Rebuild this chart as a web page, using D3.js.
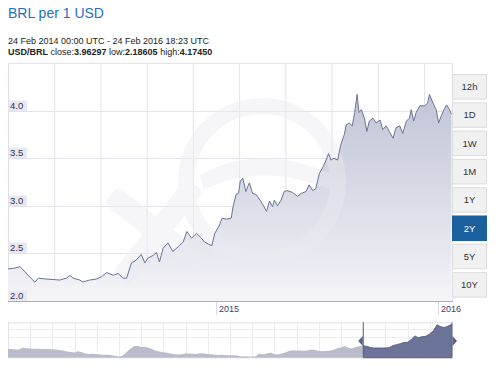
<!DOCTYPE html>
<html><head><meta charset="utf-8">
<script src="https://cdn.jsdelivr.net/npm/d3@7"></script>
<style>
body{margin:0;background:#fff;font-family:"Liberation Sans",Arial,sans-serif;}
svg{display:block;}
</style></head>
<body>
<svg id="c" width="500" height="375"></svg>
<script>
// ---- data ----
const title = "BRL per 1 USD";
const subtitle = "24 Feb 2014 00:00 UTC - 24 Feb 2016 18:23 UTC";
const pair = "USD/BRL", closeV = "3.96297", lowV = "2.18605", highV = "4.17450";
const rangeStart = "2014-02-24", rangeEnd = "2016-02-24";
const yTicks = [2.0, 2.5, 3.0, 3.5, 4.0];
const xTickDates = ["2015-02-01", "2016-02-01"];
const xTickLabels = ["2015", "2016"];
const buttons = ["12h","1D","1W","1M","1Y","2Y","5Y","10Y"];
const activeButton = "2Y";

const dates = ["2014-02-24","2014-03-05","2014-03-16","2014-03-21","2014-03-29","2014-04-06","2014-04-09","2014-04-15","2014-04-28","2014-05-09",
"2014-05-20","2014-05-31","2014-06-06","2014-06-11","2014-06-22","2014-06-27","2014-07-08","2014-07-19","2014-07-28","2014-08-05",
"2014-08-16","2014-08-24","2014-09-01","2014-09-07","2014-09-15","2014-09-23","2014-10-01","2014-10-07","2014-10-12","2014-10-21",
"2014-10-26","2014-10-31","2014-11-06","2014-11-14","2014-11-22","2014-12-01","2014-12-09","2014-12-15","2014-12-23","2014-12-31",
"2015-01-08","2015-01-13","2015-01-19","2015-01-25","2015-01-30","2015-02-07","2015-02-11","2015-02-18","2015-02-26","2015-03-01",
"2015-03-06","2015-03-10","2015-03-13","2015-03-17","2015-03-22","2015-03-27","2015-03-28","2015-04-02","2015-04-08","2015-04-16",
"2015-04-21","2015-04-25","2015-04-30","2015-05-05","2015-05-08","2015-05-13","2015-05-19","2015-05-24","2015-05-29","2015-06-07",
"2015-06-15","2015-06-21","2015-06-29","2015-07-04","2015-07-10","2015-07-15","2015-07-21","2015-07-27","2015-08-01","2015-08-05",
"2015-08-09","2015-08-14","2015-08-20","2015-08-25","2015-08-31","2015-09-03","2015-09-08","2015-09-13","2015-09-17","2015-09-21",
"2015-09-24","2015-09-28","2015-10-03","2015-10-07","2015-10-11","2015-10-17","2015-10-22","2015-10-29","2015-11-02","2015-11-08",
"2015-11-13","2015-11-19","2015-11-24","2015-11-30","2015-12-05","2015-12-11","2015-12-16","2015-12-19","2015-12-23","2015-12-27",
"2016-01-02","2016-01-10","2016-01-15","2016-01-18","2016-01-23","2016-01-29","2016-02-02","2016-02-06","2016-02-11","2016-02-15",
"2016-02-20","2016-02-23"];
const rates = [2.337,2.344,2.36,2.326,2.27,2.22,2.197,2.24,2.23,2.226,
2.22,2.24,2.27,2.24,2.22,2.20,2.22,2.23,2.256,2.30,
2.27,2.29,2.24,2.24,2.40,2.43,2.49,2.40,2.45,2.48,
2.51,2.41,2.555,2.61,2.52,2.57,2.62,2.73,2.66,2.71,
2.66,2.62,2.60,2.58,2.71,2.80,2.87,2.86,2.87,2.99,
3.12,3.13,3.26,3.29,3.15,3.23,3.24,3.13,3.12,3.045,
2.99,2.94,3.05,2.99,3.06,3.00,3.06,3.15,3.16,3.14,
3.10,3.13,3.15,3.22,3.16,3.18,3.34,3.41,3.48,3.55,
3.48,3.50,3.48,3.64,3.75,3.85,3.87,3.84,3.98,4.17,
3.98,4.01,3.92,3.78,3.89,3.92,3.87,3.90,3.80,3.84,
3.78,3.71,3.82,3.84,3.76,3.89,3.92,4.01,3.89,3.98,
4.05,4.05,4.08,4.17,4.09,4.01,3.87,3.94,4.01,4.06,
4.01,3.963];

// navigator: monthly values Feb 2006 - Feb 2016
const navStart = "2006-02-24";
const navRates = [2.15,2.15,2.10,2.10,2.25,2.20,2.18,2.16,2.16,2.14,2.15,
2.14,2.13,2.10,2.06,2.03,1.95,1.92,1.88,1.97,1.90,1.80,1.76,
1.78,1.77,1.73,1.70,1.70,1.66,1.63,1.57,1.62,1.90,2.15,2.35,
2.40,2.30,2.32,2.25,2.15,2.02,1.95,1.90,1.85,1.80,1.74,1.72,
1.74,1.80,1.80,1.78,1.76,1.82,1.80,1.77,1.75,1.70,1.68,1.70,
1.67,1.67,1.66,1.64,1.58,1.60,1.57,1.55,1.60,1.80,1.72,1.80,
1.85,1.75,1.72,1.80,1.87,2.00,2.05,2.03,2.03,2.02,2.03,2.10,
2.07,2.00,1.97,1.99,2.01,2.08,2.20,2.27,2.38,2.25,2.18,2.30,
2.35,2.40,2.35,2.26,2.22,2.23,2.22,2.23,2.25,2.40,2.48,2.55,
2.65,2.66,2.85,3.15,3.00,3.10,3.12,3.30,3.55,4.00,3.85,3.80,
3.90,4.05,3.97];

// ---- drawing ----
const svg = d3.select("#c");
const parse = d3.utcParse("%Y-%m-%d");
const L = 8, R = 452, T = 63, B = 301;
const x = d3.scaleUtc().domain([parse(rangeStart), parse(rangeEnd)]).range([L, R]);
const y = d3.scaleLinear().domain([2.0, 4.5]).range([B, T]);
const data = dates.map((d, i) => ({d: parse(d), v: rates[i]}));

const defs = svg.append("defs");
const grad = defs.append("linearGradient").attr("id","ag").attr("gradientUnits","userSpaceOnUse")
  .attr("x1",0).attr("x2",0).attr("y1",95).attr("y2",B);
grad.append("stop").attr("offset","0").attr("stop-color","#c2c5d6");
grad.append("stop").attr("offset","0.55").attr("stop-color","#dcdee8");
grad.append("stop").attr("offset","1").attr("stop-color","#f5f5f9");
defs.append("clipPath").attr("id","pc").append("rect").attr("x",L).attr("y",T).attr("width",R-L).attr("height",B-T);

// header
svg.append("text").attr("x",8).attr("y",18).attr("font-size",14).attr("fill","#1f6fc5").text(title);
svg.append("text").attr("x",8).attr("y",43.5).attr("font-size",9).attr("fill","#222").text(subtitle);
const t3 = svg.append("text").attr("x",8).attr("y",54.5).attr("font-size",9).attr("fill","#222");
t3.append("tspan").attr("font-weight","bold").text(pair);
t3.append("tspan").text(" close:");
t3.append("tspan").attr("font-weight","bold").text(closeV);
t3.append("tspan").text(" low:");
t3.append("tspan").attr("font-weight","bold").text(lowV);
t3.append("tspan").text(" high:");
t3.append("tspan").attr("font-weight","bold").text(highV);

// grid
const g = svg.append("g");
const gridStep = 76 * 864e5;
const vg = d3.range(1, 10).map(k => new Date(parse(rangeStart).getTime() + k * gridStep));
g.selectAll(".vg").data(vg).join("line").attr("x1",d=>x(d)+0.5).attr("x2",d=>x(d)+0.5)
  .attr("y1",T).attr("y2",B).attr("stroke","#e3e3ea").attr("stroke-width",1);
g.selectAll(".hg").data(yTicks.slice(1)).join("line").attr("x1",L).attr("x2",R)
  .attr("y1",d=>Math.round(y(d))+0.5).attr("y2",d=>Math.round(y(d))+0.5).attr("stroke","#e3e3ea");
g.append("line").attr("x1",L).attr("x2",R).attr("y1",T+0.5).attr("y2",T+0.5).attr("stroke","#e3e3ea");
g.append("line").attr("x1",L+0.5).attr("x2",L+0.5).attr("y1",T).attr("y2",B).attr("stroke","#dedee6");
g.append("line").attr("x1",R+0.5).attr("x2",R+0.5).attr("y1",T).attr("y2",B).attr("stroke","#e3e3ea");

// area + line
const area = d3.area().x(d=>x(d.d)).y0(B).y1(d=>y(d.v));
const line = d3.line().x(d=>x(d.d)).y(d=>y(d.v));
const pg = svg.append("g").attr("clip-path","url(#pc)");
pg.append("path").datum(data).attr("d",area).attr("fill","url(#ag)");

// watermark
const wm = pg.append("g").attr("fill","#ececf2").attr("opacity",0.42);
wm.append("path").attr("d", d3.arc().innerRadius(68).outerRadius(84).startAngle(0).endAngle(2*Math.PI)())
  .attr("transform","translate(262,182)");
wm.append("rect").attr("x",-60).attr("y",-11).attr("width",120).attr("height",22).attr("rx",6)
  .attr("transform","translate(158,232) rotate(38)");
wm.append("rect").attr("x",-60).attr("y",-11).attr("width",120).attr("height",22).attr("rx",6)
  .attr("transform","translate(158,232) rotate(-52)");
wm.append("path").attr("d","M200,175 Q262,140 340,178 L336,192 Q262,160 204,190 Z");

pg.append("path").datum(data).attr("d",line).attr("fill","none").attr("stroke","#6b7299").attr("stroke-width",1);

// y labels
const yl = svg.append("g");
yTicks.forEach(v => {
  const yy = Math.round(y(v));
  yl.append("rect").attr("x",L+0.5).attr("y",yy-10.5).attr("width",18.5).attr("height",10.5).attr("fill","#e8e8f1");
  yl.append("text").attr("x",L+2).attr("y",yy-2).attr("font-size",9.5).attr("fill","#2d2f5e").text(v.toFixed(1));
});

// x axis
svg.append("line").attr("x1",L).attr("x2",R+1).attr("y1",B+0.5).attr("y2",B+0.5).attr("stroke","#a9a9c8");
xTickDates.forEach((d, i) => {
  const xx = Math.round(x(parse(d))) + 0.5;
  svg.append("line").attr("x1",xx).attr("x2",xx).attr("y1",B+1).attr("y2",B+14).attr("stroke","#d8d8e0");
  svg.append("text").attr("x",xx+2.5).attr("y",312).attr("font-size",9).attr("fill","#3a3d6a").text(xTickLabels[i]);
});

// buttons
const bg = svg.append("g");
buttons.forEach((b, i) => {
  const by = 74 + i * 28.3;
  const on = b === activeButton;
  bg.append("rect").attr("x",452.5).attr("y",by+0.5).attr("width",34).attr("height",24.5)
    .attr("fill", on ? "#1b5f9e" : "#f1f1f2").attr("stroke", on ? "#1b5f9e" : "#dcdcdc");
  bg.append("text").attr("x",469.5).attr("y",by+16).attr("text-anchor","middle").attr("font-size",9.5)
    .attr("fill", on ? "#fff" : "#333").text(b);
});

// navigator
const NT = 322.3, NB = 357.7;
const nx = d3.scaleUtc().domain([parse(navStart), parse(rangeEnd)]).range([L, R]);
const ny = d3.scaleLinear().domain([1.48, 4.19]).range([NB, NT]);
const n0 = parse(navStart);
const navData = navRates.map((v, i) => ({d: d3.utcMonth.offset(n0, i), v}));
navData[navData.length-1].d = parse(rangeEnd);
const ng = svg.append("g");
ng.append("rect").attr("x",L).attr("y",NT).attr("width",R-L).attr("height",NB-NT).attr("fill","#fff");
d3.range(1, 20).forEach(k => {
  const xx = Math.round(L + k * 22.2) + 0.5;
  ng.append("line").attr("x1",xx).attr("x2",xx).attr("y1",NT).attr("y2",NB).attr("stroke","#ececf0");
});
[329.5, 337.5].forEach(yy => ng.append("line").attr("x1",L).attr("x2",R).attr("y1",yy).attr("y2",yy).attr("stroke","#ececf0"));
ng.append("line").attr("x1",L).attr("x2",R).attr("y1",NT+0.5).attr("y2",NT+0.5).attr("stroke","#e2e2e8");
ng.append("line").attr("x1",L+0.5).attr("x2",L+0.5).attr("y1",NT).attr("y2",NB).attr("stroke","#e2e2e8");
const narea = d3.area().x(d=>nx(d.d)).y0(NB).y1(d=>ny(d.v));
const selX = nx(parse(rangeStart));
defs.append("clipPath").attr("id","nsel").append("rect").attr("x",selX).attr("y",NT-2).attr("width",R-selX).attr("height",NB-NT+4);
defs.append("clipPath").attr("id","nun").append("rect").attr("x",L).attr("y",NT-2).attr("width",selX-L).attr("height",NB-NT+4);
ng.append("path").datum(navData).attr("d",narea).attr("fill","#b9bccb").attr("clip-path","url(#nun)");
ng.append("path").datum(navData).attr("d",narea).attr("fill","#6c7499").attr("clip-path","url(#nsel)");
ng.append("path").datum(navData).attr("d",d3.line().x(d=>nx(d.d)).y(d=>ny(d.v))).attr("fill","none")
  .attr("stroke","#4e5580").attr("stroke-width",0.8).attr("clip-path","url(#nsel)");
ng.append("line").attr("x1",L).attr("x2",R).attr("y1",NB).attr("y2",NB).attr("stroke","#c8cad6");
ng.append("line").attr("x1",selX).attr("x2",R).attr("y1",NB).attr("y2",NB).attr("stroke","#4e5580");
[selX, R].forEach(xx => ng.append("line").attr("x1",xx).attr("x2",xx).attr("y1",NT).attr("y2",NB)
  .attr("stroke","#555c82").attr("stroke-width",1));
const hy = 341;
ng.append("path").attr("d",`M${selX-0.5},${hy-5} L${selX-5},${hy} L${selX-0.5},${hy+5} Z`).attr("fill","#5a6188");
ng.append("path").attr("d",`M${R+0.5},${hy-5} L${R+5},${hy} L${R+0.5},${hy+5} Z`).attr("fill","#5a6188");
</script>
</body></html>
